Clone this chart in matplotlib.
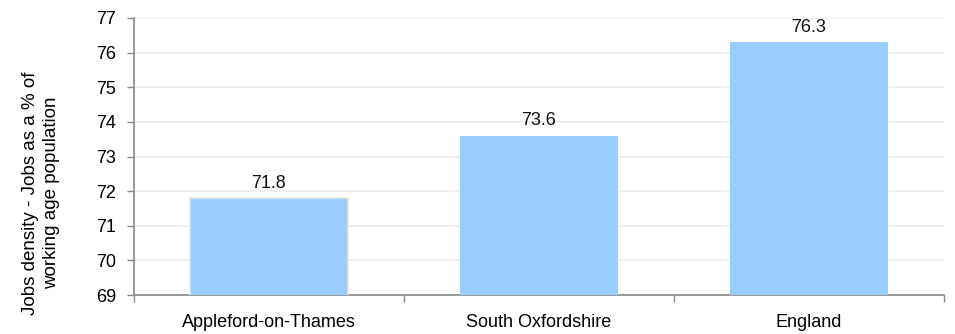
import numpy as np
import matplotlib.pyplot as plt

plt.rcParams['font.family'] = ['Liberation Sans', 'DejaVu Sans']

categories = ["Appleford-on-Thames", "South Oxfordshire", "England"]
values = [71.8, 73.6, 76.3]
ylabel = "Jobs density - Jobs as a % of\nworking age population"

fig = plt.figure(figsize=(9.55, 3.34), dpi=100)
ax = fig.add_axes([134/955, 1-295/334, 810/955, 277/334])

x = np.arange(len(categories))
bars = ax.bar(x, values, width=0.585, color="#99ccff", zorder=3)
bars[0].set_edgecolor("#e6e6dc")
bars[0].set_linewidth(1.2)

for xi, v in zip(x, values):
    ax.text(xi, v + 0.18, f"{v:.1f}", ha="center", va="bottom", fontsize=13, color="#111111")

ax.set_ylim(69, 77)
ax.set_xlim(-0.5, len(categories) - 0.5)
ax.set_yticks(np.arange(69, 78, 1))
ax.set_xticks(x)
ax.set_xticklabels(categories)
ax.set_xticks(np.arange(-0.5, len(categories), 1), minor=True)
ax.tick_params(axis="x", which="major", length=0, pad=14, labelsize=13)
ax.tick_params(axis="x", which="minor", length=5, color="#888888", width=1)
ax.tick_params(axis="y", length=5, color="#888888", width=1, labelsize=13, pad=8)

ax.yaxis.grid(True, color="#ececec", linewidth=1.2, zorder=0)
for s in ["top", "right"]:
    ax.spines[s].set_visible(False)
ax.spines["left"].set_color("#888888")
ax.spines["bottom"].set_color("#888888")
ax.spines["left"].set_linewidth(1.2)
ax.spines["bottom"].set_linewidth(1.2)

ax.set_ylabel(ylabel, fontsize=13.5, linespacing=1.3)
ax.yaxis.set_label_coords(-0.091, (295 - 193) / 277)

fig.savefig("out.png", dpi=100)
